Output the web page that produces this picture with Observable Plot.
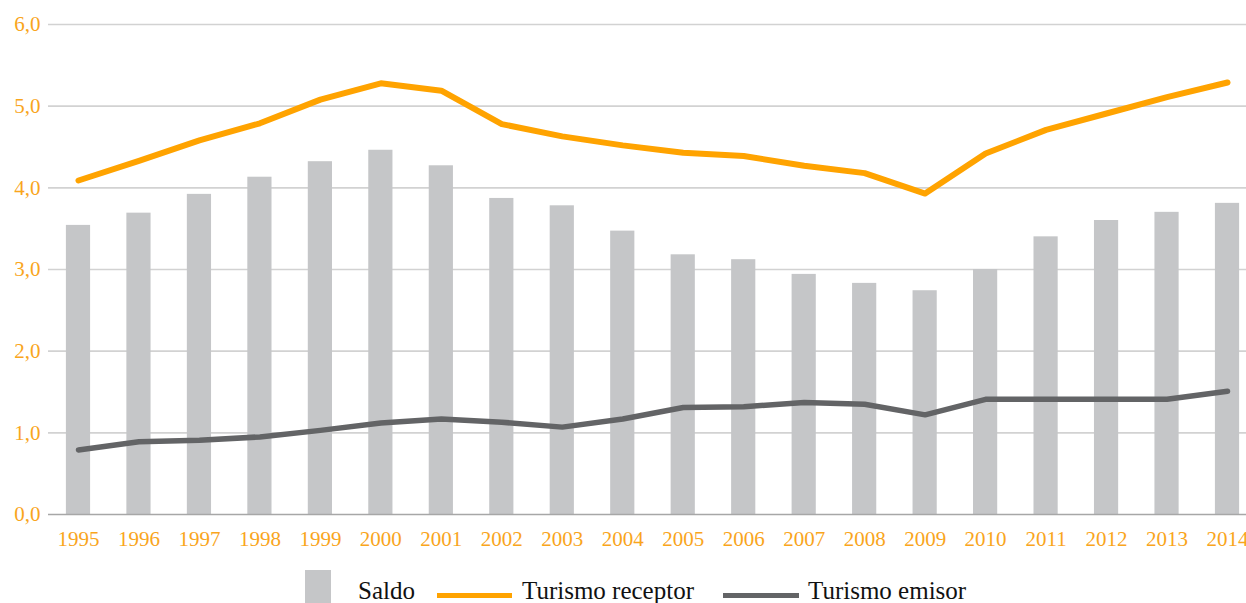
<!DOCTYPE html>
<html>
<head>
<meta charset="utf-8">
<script src="https://cdn.jsdelivr.net/npm/d3@7"></script>
<script src="https://cdn.jsdelivr.net/npm/@observablehq/plot@0.6"></script>
<style>
  html, body { margin: 0; padding: 0; background: #fff; }
  #wrap { position: relative; width: 1246px; height: 603px; overflow: hidden; font-family: "Liberation Serif", "Times New Roman", Times, "DejaVu Serif", serif; }
  #legend { position: absolute; left: 0; top: 0; width: 1246px; height: 603px; pointer-events: none; }
  .sw { position: absolute; }
  .lt { position: absolute; font-size: 25px; color: #111; line-height: 1; white-space: nowrap; font-family: "Liberation Serif", "Times New Roman", Times, serif; }
  svg text { font-family: "Liberation Serif", "Times New Roman", Times, serif; }
</style>
</head>
<body>
<div id="wrap">
  <div id="chart"></div>
  <div id="legend"></div>
</div>
<script>
const years = ["1995","1996","1997","1998","1999","2000","2001","2002","2003","2004","2005","2006","2007","2008","2009","2010","2011","2012","2013","2014"];
const saldo = [3.54,3.69,3.92,4.13,4.32,4.46,4.27,3.87,3.78,3.47,3.18,3.12,2.94,2.83,2.74,3.00,3.40,3.60,3.70,3.81];
const receptor = [4.09,4.33,4.58,4.79,5.08,5.28,5.19,4.78,4.63,4.52,4.43,4.39,4.27,4.18,3.93,4.42,4.71,4.91,5.11,5.29];
const emisor = [0.79,0.89,0.91,0.95,1.03,1.12,1.17,1.13,1.07,1.17,1.31,1.32,1.37,1.35,1.22,1.41,1.41,1.41,1.41,1.51];
const yTicks = [0,1,2,3,4,5,6];
const seriesNames = ["Saldo","Turismo receptor","Turismo emisor"];
const colors = {bar: "#C5C6C8", receptor: "#FFA300", emisor: "#636466", text: "#F9A51C", grid: "#D2D2D2", base: "#A7A7A7"};

const data = years.map((y, i) => ({year: y, saldo: saldo[i], receptor: receptor[i], emisor: emisor[i]}));

const chart = Plot.plot({
  width: 1246,
  height: 560,
  marginTop: 24,
  marginBottom: 46,
  marginLeft: 48,
  marginRight: 0,
  style: {fontFamily: "Liberation Serif, Times New Roman, serif", fontSize: "21px", color: colors.text, background: "#fff"},
  x: {type: "band", domain: years, round: false, paddingInner: 0.6, paddingOuter: 0.114, insetLeft: 11, tickSize: 0, tickPadding: 17, label: null},
  y: {domain: [0, 6], ticks: yTicks, tickFormat: d => d.toFixed(1).replace(".", ","), tickSize: 0, tickPadding: 8, label: null},
  marks: [
    Plot.ruleY(yTicks.filter(d => d > 0), {stroke: colors.grid, strokeWidth: 1.6}),
    Plot.barY(data, {x: "year", y: "saldo", fill: colors.bar}),
    Plot.ruleY([0], {stroke: colors.base, strokeWidth: 1.6}),
    Plot.line(data, {x: "year", y: "emisor", stroke: colors.emisor, strokeWidth: 5.5, strokeLinecap: "round", strokeLinejoin: "round"}),
    Plot.line(data, {x: "year", y: "receptor", stroke: colors.receptor, strokeWidth: 6, strokeLinecap: "round", strokeLinejoin: "round"})
  ]
});
document.getElementById("chart").appendChild(chart);

// Legend
const legend = document.getElementById("legend");
const items = [
  {name: seriesNames[0], kind: "rect", color: colors.bar, sx: 305, sw: 26, tx: 358},
  {name: seriesNames[1], kind: "line", color: colors.receptor, sx: 437, sw: 75, tx: 522},
  {name: seriesNames[2], kind: "line", color: colors.emisor, sx: 723, sw: 76, tx: 808}
];
items.forEach(it => {
  const s = document.createElement("div");
  s.className = "sw";
  s.style.left = it.sx + "px";
  s.style.width = it.sw + "px";
  s.style.background = it.color;
  if (it.kind === "rect") { s.style.top = "570px"; s.style.height = "40px"; }
  else { s.style.top = "593px"; s.style.height = "5px"; }
  legend.appendChild(s);
  const t = document.createElement("div");
  t.className = "lt";
  t.style.left = it.tx + "px";
  t.style.top = "578px";
  t.textContent = it.name;
  legend.appendChild(t);
});
</script>
</body>
</html>
